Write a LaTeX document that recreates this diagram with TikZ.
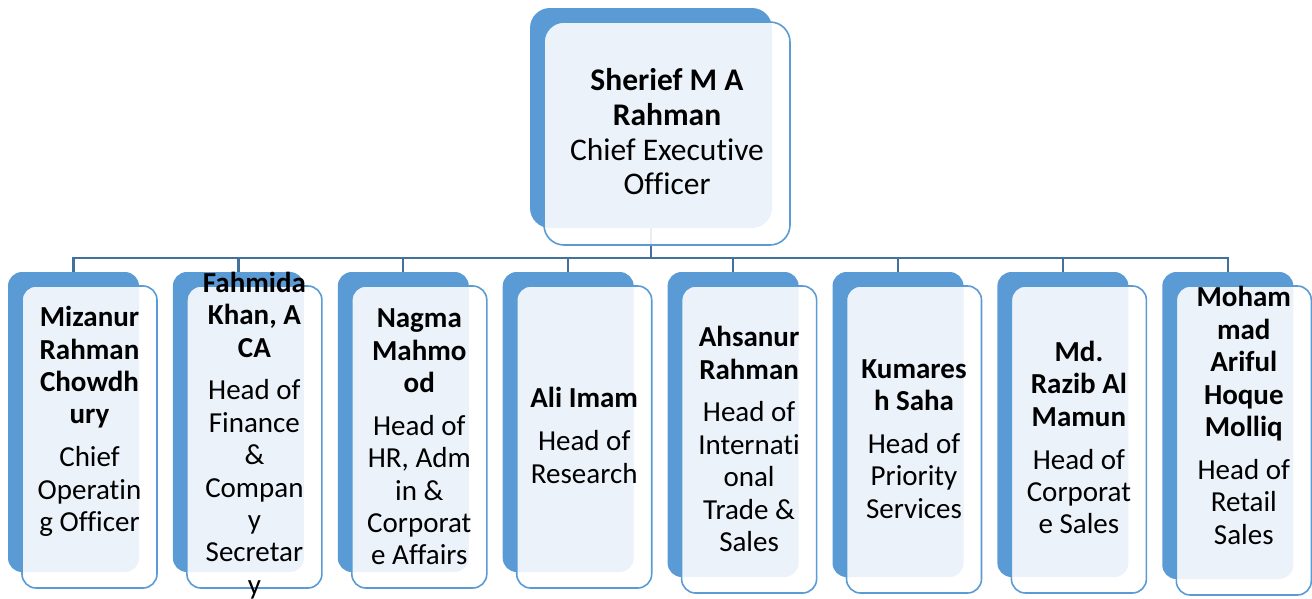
\documentclass[tikz,border=0pt]{standalone}
\usepackage{fontspec}
\setmainfont{Carlito}[Ligatures={NoCommon,NoRare,NoContextual}]
\definecolor{backblue}{HTML}{5B9BD5}
\definecolor{lineblue}{HTML}{41719C}
\definecolor{edgeblue}{HTML}{5B9BD5}
\newcommand\nm[1]{\textbf{#1}}
\begin{document}
\begin{tikzpicture}[x=1pt,y=-1pt,
  back/.style={fill=backblue, draw=none, rounded corners=14pt, inner sep=0pt},
  backtop/.style={back, rounded corners=20pt},
  front/.style={draw=edgeblue, line width=1.6pt, fill=white, fill opacity=0.88, rounded corners=14pt, inner sep=0pt},
  fronttop/.style={front, rounded corners=20pt},
  conn/.style={draw=lineblue, line width=2.2pt},
  txt/.style={align=center, inner sep=0pt, text=black, font=\fontsize{29}{32.4}\selectfont},
  txttop/.style={align=center, inner sep=0pt, text=black, font=\fontsize{31.5}{34.7}\selectfont}]
\useasboundingbox (0,0) rectangle (1312,598);

% back boxes
\node[backtop, minimum width=242pt, minimum height=220pt] (ceoB) at (651,118) {};
\node[back, minimum width=131pt, minimum height=300pt] (b1) at (73.5,422) {};
\node[back, minimum width=131pt, minimum height=300pt] (b2) at (238.4,422) {};
\node[back, minimum width=131pt, minimum height=300pt] (b3) at (403.3,422) {};
\node[back, minimum width=131pt, minimum height=300pt] (b4) at (568.2,422) {};
\node[back, minimum width=131pt, minimum height=305pt] (b5) at (733.1,424.5) {};
\node[back, minimum width=131pt, minimum height=305pt] (b6) at (898.0,424.5) {};
\node[back, minimum width=131pt, minimum height=305pt] (b7) at (1062.9,424.5) {};
\node[back, minimum width=131pt, minimum height=307pt] (b8) at (1227.8,425.5) {};

% connectors
\coordinate (bus) at (651,258);
\foreach \c in {b1,b2,b3,b4,b5,b6,b7,b8}{
  \draw[conn] (ceoB.south) -- (bus) -| (\c.north);
}

% front boxes
\node[fronttop, minimum width=246pt, minimum height=223pt] (ceoF) at (667,133.5) {};
\node[front, minimum width=135pt, minimum height=302pt] (f1) at (89.5,437) {};
\node[front, minimum width=135pt, minimum height=302pt] (f2) at (254.4,437) {};
\node[front, minimum width=135pt, minimum height=302pt] (f3) at (419.3,437) {};
\node[front, minimum width=135pt, minimum height=302pt] (f4) at (584.2,437) {};
\node[front, minimum width=135pt, minimum height=307pt] (f5) at (749.1,439.5) {};
\node[front, minimum width=135pt, minimum height=307pt] (f6) at (914.0,439.5) {};
\node[front, minimum width=135pt, minimum height=307pt] (f7) at (1078.9,439.5) {};
\node[front, minimum width=135pt, minimum height=309pt] (f8) at (1243.8,440.5) {};

% texts
\node[txttop] (t0) at (667,132) {\nm{Sherief M A}\\\nm{Rahman}\\Chief Executive\\Officer};
\node[txt] (t1) at (89.5,421.5) {\nm{Mizanur}\\\nm{Rahman}\\\nm{Chowdh}\\\nm{ury}\\[10.5pt]Chief\\Operatin\\g Officer};
\node[txt] (t2) at (254.4,435.5) {\nm{Fahmida}\\\nm{Khan, A}\\\nm{CA}\\[10.5pt]Head of\\Finance\\\&\\Compan\\y\\Secretar\\y};
\node[txt] (t3) at (419.3,437) {\nm{Nagma}\\\nm{Mahmo}\\\nm{od}\\[10.5pt]Head of\\HR, Adm\\in \&\\Corporat\\e Affairs};
\node[txt] (t4) at (584.2,435.5) {\nm{Ali Imam}\\[10.5pt]Head of\\Research};
\node[txt] (t5) at (749.1,439) {\nm{Ahsanur}\\\nm{Rahman}\\[10.5pt]Head of\\Internati\\onal\\Trade \&\\Sales};
\node[txt] (t6) at (914.0,439) {\nm{Kumares}\\\nm{h Saha}\\[10.5pt]Head of\\Priority\\Services};
\node[txt] (t7) at (1078.9,437.5) {\nm{Md.}\\\nm{Razib Al}\\\nm{Mamun}\\[10.5pt]Head of\\Corporat\\e Sales};
\node[txt] (t8) at (1243.8,415.5) {\nm{Moham}\\\nm{mad}\\\nm{Ariful}\\\nm{Hoque}\\\nm{Molliq}\\[10.5pt]Head of\\Retail\\Sales};
\end{tikzpicture}
\end{document}
